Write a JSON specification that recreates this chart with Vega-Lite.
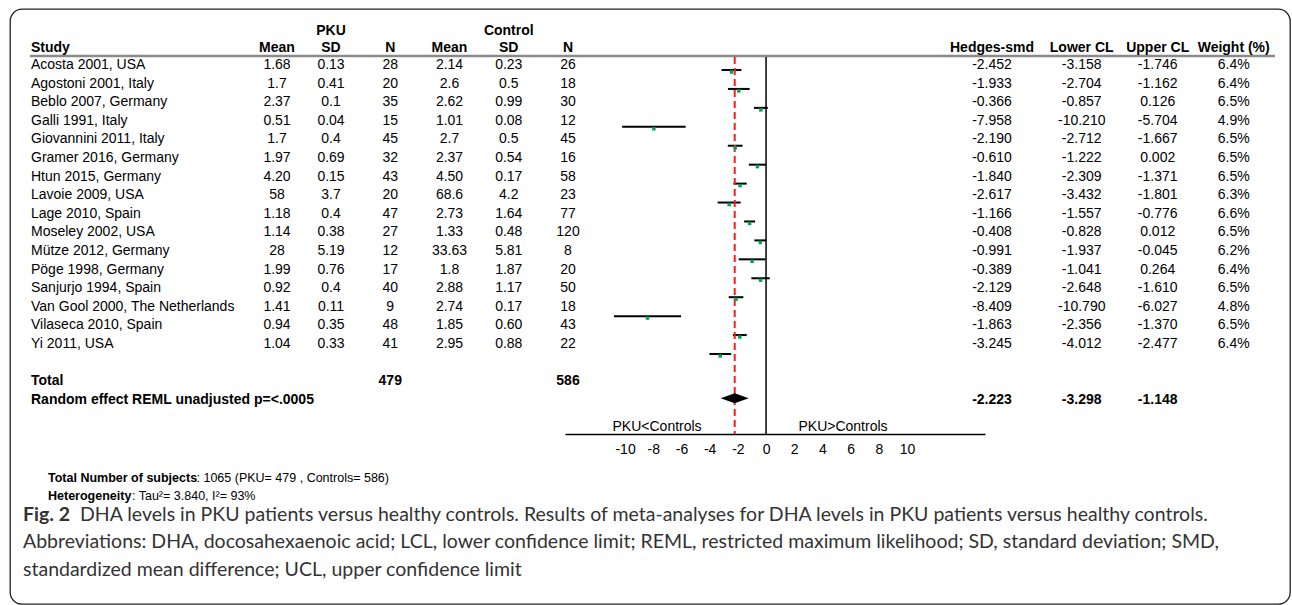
{
  "$schema": "https://vega.github.io/schema/vega-lite/v6.json",
  "width": 1280,
  "height": 595,
  "autosize": "none",
  "padding": {"left": 10, "top": 9, "right": 2, "bottom": 1},
  "background": "white",
  "config": {
    "font": "Liberation Sans",
    "view": {"stroke": "#222222", "strokeWidth": 1.3, "cornerRadius": 12},
    "locale": {"number": {"decimal": ".", "thousands": ",", "grouping": [3], "currency": ["$", ""], "minus": "-"}},
    "text": {"fontSize": 14, "color": "#000000", "baseline": "middle", "font": "Liberation Sans"}
  },
  "datasets": {
    "studies": [
      {"study": "Acosta 2001, USA", "pku_mean": "1.68", "pku_sd": "0.13", "pku_n": 28, "ctl_mean": "2.14", "ctl_sd": "0.23", "ctl_n": 26, "smd": -2.452, "lcl": -3.158, "ucl": -1.746, "weight": 0.064},
      {"study": "Agostoni 2001, Italy", "pku_mean": "1.7", "pku_sd": "0.41", "pku_n": 20, "ctl_mean": "2.6", "ctl_sd": "0.5", "ctl_n": 18, "smd": -1.933, "lcl": -2.704, "ucl": -1.162, "weight": 0.064},
      {"study": "Beblo 2007, Germany", "pku_mean": "2.37", "pku_sd": "0.1", "pku_n": 35, "ctl_mean": "2.62", "ctl_sd": "0.99", "ctl_n": 30, "smd": -0.366, "lcl": -0.857, "ucl": 0.126, "weight": 0.065},
      {"study": "Galli 1991, Italy", "pku_mean": "0.51", "pku_sd": "0.04", "pku_n": 15, "ctl_mean": "1.01", "ctl_sd": "0.08", "ctl_n": 12, "smd": -7.958, "lcl": -10.210, "ucl": -5.704, "weight": 0.049},
      {"study": "Giovannini 2011, Italy", "pku_mean": "1.7", "pku_sd": "0.4", "pku_n": 45, "ctl_mean": "2.7", "ctl_sd": "0.5", "ctl_n": 45, "smd": -2.190, "lcl": -2.712, "ucl": -1.667, "weight": 0.065},
      {"study": "Gramer 2016, Germany", "pku_mean": "1.97", "pku_sd": "0.69", "pku_n": 32, "ctl_mean": "2.37", "ctl_sd": "0.54", "ctl_n": 16, "smd": -0.610, "lcl": -1.222, "ucl": 0.002, "weight": 0.065},
      {"study": "Htun 2015, Germany", "pku_mean": "4.20", "pku_sd": "0.15", "pku_n": 43, "ctl_mean": "4.50", "ctl_sd": "0.17", "ctl_n": 58, "smd": -1.840, "lcl": -2.309, "ucl": -1.371, "weight": 0.065},
      {"study": "Lavoie 2009, USA", "pku_mean": "58", "pku_sd": "3.7", "pku_n": 20, "ctl_mean": "68.6", "ctl_sd": "4.2", "ctl_n": 23, "smd": -2.617, "lcl": -3.432, "ucl": -1.801, "weight": 0.063},
      {"study": "Lage 2010, Spain", "pku_mean": "1.18", "pku_sd": "0.4", "pku_n": 47, "ctl_mean": "2.73", "ctl_sd": "1.64", "ctl_n": 77, "smd": -1.166, "lcl": -1.557, "ucl": -0.776, "weight": 0.066},
      {"study": "Moseley 2002, USA", "pku_mean": "1.14", "pku_sd": "0.38", "pku_n": 27, "ctl_mean": "1.33", "ctl_sd": "0.48", "ctl_n": 120, "smd": -0.408, "lcl": -0.828, "ucl": 0.012, "weight": 0.065},
      {"study": "Mütze 2012, Germany", "pku_mean": "28", "pku_sd": "5.19", "pku_n": 12, "ctl_mean": "33.63", "ctl_sd": "5.81", "ctl_n": 8, "smd": -0.991, "lcl": -1.937, "ucl": -0.045, "weight": 0.062},
      {"study": "Pöge 1998, Germany", "pku_mean": "1.99", "pku_sd": "0.76", "pku_n": 17, "ctl_mean": "1.8", "ctl_sd": "1.87", "ctl_n": 20, "smd": -0.389, "lcl": -1.041, "ucl": 0.264, "weight": 0.064},
      {"study": "Sanjurjo 1994, Spain", "pku_mean": "0.92", "pku_sd": "0.4", "pku_n": 40, "ctl_mean": "2.88", "ctl_sd": "1.17", "ctl_n": 50, "smd": -2.129, "lcl": -2.648, "ucl": -1.610, "weight": 0.065},
      {"study": "Van Gool 2000, The Netherlands", "pku_mean": "1.41", "pku_sd": "0.11", "pku_n": 9, "ctl_mean": "2.74", "ctl_sd": "0.17", "ctl_n": 18, "smd": -8.409, "lcl": -10.790, "ucl": -6.027, "weight": 0.048},
      {"study": "Vilaseca 2010, Spain", "pku_mean": "0.94", "pku_sd": "0.35", "pku_n": 48, "ctl_mean": "1.85", "ctl_sd": "0.60", "ctl_n": 43, "smd": -1.863, "lcl": -2.356, "ucl": -1.370, "weight": 0.065},
      {"study": "Yi 2011, USA", "pku_mean": "1.04", "pku_sd": "0.33", "pku_n": 41, "ctl_mean": "2.95", "ctl_sd": "0.88", "ctl_n": 22, "smd": -3.245, "lcl": -4.012, "ucl": -2.477, "weight": 0.064}
    ],
    "summary": [
      {"key": "Total", "label": "Total", "pku_n": 479, "ctl_n": 586},
      {"key": "RE", "label": "Random effect REML unadjusted p=<.0005", "smd": -2.223, "lcl": -3.298, "ucl": -1.148}
    ],
    "refs": [
      {"ref": "no effect", "v": 0},
      {"ref": "pooled", "v": -2.223}
    ],
    "notes": [
      {"line": "f1", "bold": "Total Number of subjects", "rest": ": 1065 (PKU= 479 , Controls= 586)"},
      {"line": "f2", "bold": "Heterogeneity", "rest": ": Tau²= 3.840, I²= 93%"}
    ],
    "caption": [
      {"line": "c1", "bold": "Fig. 2", "rest": "DHA levels in PKU patients versus healthy controls. Results of meta-analyses for DHA levels in PKU patients versus healthy controls."},
      {"line": "c2", "bold": "", "rest": "Abbreviations: DHA, docosahexaenoic acid; LCL, lower confidence limit; REML, restricted maximum likelihood; SD, standard deviation; SMD,"},
      {"line": "c3", "bold": "", "rest": "standardized mean difference; UCL, upper confidence limit"}
    ]
  },
  "resolve": {"scale": {"x": "independent", "y": "independent"}},
  "layer": [
    {
      "data": {"values": [{"rule": "header underline"}]},
      "mark": {"type": "rule", "stroke": "#8a8a8a", "strokeWidth": 2.5, "yOffset": 9.6},
      "encoding": {
        "x": {"datum": 0, "type": "quantitative", "scale": {"domain": [0, 1], "range": [20, 1265]}, "axis": null},
        "x2": {"datum": 1},
        "y": {"datum": "hdr", "type": "nominal", "axis": null, "scale": {"type": "point", "padding": 0, "range": [18.8, 390.8], "domain": ["grp", "hdr", "Acosta 2001, USA", "Agostoni 2001, Italy", "Beblo 2007, Germany", "Galli 1991, Italy", "Giovannini 2011, Italy", "Gramer 2016, Germany", "Htun 2015, Germany", "Lavoie 2009, USA", "Lage 2010, Spain", "Moseley 2002, USA", "Mütze 2012, Germany", "Pöge 1998, Germany", "Sanjurjo 1994, Spain", "Van Gool 2000, The Netherlands", "Vilaseca 2010, Spain", "Yi 2011, USA", "gap", "Total", "RE"]}}
      }
    },
    {
      "data": {"name": "refs"},
      "transform": [{"filter": "datum.ref == 'no effect'"}],
      "mark": {"type": "rule", "stroke": "#000000", "strokeWidth": 1.5},
      "encoding": {
        "x": {"field": "v", "type": "quantitative", "axis": null, "scale": {"domain": [-14.26, 15.53], "range": [555, 975], "nice": false, "zero": false}},
        "y": {"datum": 0, "type": "quantitative", "axis": null, "scale": {"domain": [0, 1], "range": [48, 425]}},
        "y2": {"datum": 1}
      }
    },
    {
      "data": {"name": "studies"},
      "mark": {"type": "rule", "stroke": "#000000", "strokeWidth": 2},
      "encoding": {
        "x": {"field": "lcl", "type": "quantitative", "scale": {"domain": [-14.26, 15.53], "range": [555, 975], "nice": false, "zero": false},
          "axis": {"orient": "bottom", "offset": -170, "values": [-10, -8, -6, -4, -2, 0, 2, 4, 6, 8, 10], "format": "d", "title": null, "grid": false, "ticks": false, "domainColor": "#000000", "domainWidth": 1.5, "labelFont": "Liberation Sans", "labelFontSize": 14, "labelColor": "#000000", "labelPadding": 8, "labelOverlap": false, "labelFlush": false, "labelBound": false}},
        "x2": {"field": "ucl"},
        "y": {"field": "study", "type": "nominal", "axis": null, "scale": {"type": "point", "padding": 0, "range": [61, 345], "domain": ["Acosta 2001, USA", "Agostoni 2001, Italy", "Beblo 2007, Germany", "Galli 1991, Italy", "Giovannini 2011, Italy", "Gramer 2016, Germany", "Htun 2015, Germany", "Lavoie 2009, USA", "Lage 2010, Spain", "Moseley 2002, USA", "Mütze 2012, Germany", "Pöge 1998, Germany", "Sanjurjo 1994, Spain", "Van Gool 2000, The Netherlands", "Vilaseca 2010, Spain", "Yi 2011, USA"]}}
      }
    },
    {
      "data": {"name": "refs"},
      "transform": [{"filter": "datum.ref == 'pooled'"}],
      "mark": {"type": "rule", "stroke": "#ff1a1a", "strokeWidth": 2, "strokeDash": [7, 4]},
      "encoding": {
        "x": {"field": "v", "type": "quantitative", "axis": null, "scale": {"domain": [-14.26, 15.53], "range": [555, 975], "nice": false, "zero": false}},
        "y": {"datum": 0, "type": "quantitative", "axis": null, "scale": {"domain": [0, 1], "range": [48, 425]}},
        "y2": {"datum": 1}
      }
    },
    {
      "data": {"name": "studies"},
      "mark": {"type": "point", "shape": "square", "filled": true, "size": 12, "color": "#00a650", "opacity": 1, "yOffset": 2},
      "encoding": {
        "x": {"field": "smd", "type": "quantitative", "axis": null, "scale": {"domain": [-14.26, 15.53], "range": [555, 975], "nice": false, "zero": false}},
        "y": {"field": "study", "type": "nominal", "axis": null, "scale": {"type": "point", "padding": 0, "range": [61, 345], "domain": ["Acosta 2001, USA", "Agostoni 2001, Italy", "Beblo 2007, Germany", "Galli 1991, Italy", "Giovannini 2011, Italy", "Gramer 2016, Germany", "Htun 2015, Germany", "Lavoie 2009, USA", "Lage 2010, Spain", "Moseley 2002, USA", "Mütze 2012, Germany", "Pöge 1998, Germany", "Sanjurjo 1994, Spain", "Van Gool 2000, The Netherlands", "Vilaseca 2010, Spain", "Yi 2011, USA"]}}
      }
    },
    {
      "data": {"name": "summary"},
      "transform": [{"filter": "datum.key == 'RE'"}],
      "mark": {"type": "point", "shape": "M-1,0L0,-0.36L1,0L0,0.36Z", "filled": true, "size": 784, "color": "#000000", "opacity": 1, "yOffset": -1.5},
      "encoding": {
        "x": {"field": "smd", "type": "quantitative", "axis": null, "scale": {"domain": [-14.26, 15.53], "range": [555, 975], "nice": false, "zero": false}},
        "y": {"field": "key", "type": "nominal", "axis": null, "scale": {"type": "point", "padding": 0, "range": [18.8, 390.8], "domain": ["grp", "hdr", "Acosta 2001, USA", "Agostoni 2001, Italy", "Beblo 2007, Germany", "Galli 1991, Italy", "Giovannini 2011, Italy", "Gramer 2016, Germany", "Htun 2015, Germany", "Lavoie 2009, USA", "Lage 2010, Spain", "Moseley 2002, USA", "Mütze 2012, Germany", "Pöge 1998, Germany", "Sanjurjo 1994, Spain", "Van Gool 2000, The Netherlands", "Vilaseca 2010, Spain", "Yi 2011, USA", "gap", "Total", "RE"]}}
      }
    },
    {
      "data": {"values": [{"label": "PKU<Controls"}]},
      "mark": {"type": "text", "baseline": "alphabetic", "align": "center", "dy": -3},
      "encoding": {
        "text": {"field": "label", "type": "nominal"},
        "x": {"datum": -7.73, "type": "quantitative", "axis": null, "scale": {"domain": [-14.26, 15.53], "range": [555, 975], "nice": false, "zero": false}},
        "y": {"datum": 1, "type": "quantitative", "axis": null, "scale": {"domain": [0, 1], "range": [48, 425]}}
      }
    },
    {
      "data": {"values": [{"label": "PKU>Controls"}]},
      "mark": {"type": "text", "baseline": "alphabetic", "align": "center", "dy": -3},
      "encoding": {
        "text": {"field": "label", "type": "nominal"},
        "x": {"datum": 5.46, "type": "quantitative", "axis": null, "scale": {"domain": [-14.26, 15.53], "range": [555, 975], "nice": false, "zero": false}},
        "y": {"datum": 1, "type": "quantitative", "axis": null, "scale": {"domain": [0, 1], "range": [48, 425]}}
      }
    },
    {
      "data": {"values": [{"label": "Study"}]},
      "mark": {"type": "text", "align": "left", "fontWeight": "bold", "dy": 1.5},
      "encoding": {
        "text": {"field": "label", "type": "nominal"},
        "x": {"datum": "study", "type": "nominal", "axis": null, "scale": {"type": "point", "domain": ["study"], "range": [21, 21]}},
        "y": {"datum": "hdr", "type": "nominal", "axis": null, "scale": {"type": "point", "padding": 0, "range": [18.8, 390.8], "domain": ["grp", "hdr", "Acosta 2001, USA", "Agostoni 2001, Italy", "Beblo 2007, Germany", "Galli 1991, Italy", "Giovannini 2011, Italy", "Gramer 2016, Germany", "Htun 2015, Germany", "Lavoie 2009, USA", "Lage 2010, Spain", "Moseley 2002, USA", "Mütze 2012, Germany", "Pöge 1998, Germany", "Sanjurjo 1994, Spain", "Van Gool 2000, The Netherlands", "Vilaseca 2010, Spain", "Yi 2011, USA", "gap", "Total", "RE"]}}
      }
    },
    {
      "data": {"values": [{"col": "pku_mean", "label": "Mean"}]},
      "mark": {"type": "text", "align": "center", "fontWeight": "bold", "dy": 1.5},
      "encoding": {
        "text": {"field": "label", "type": "nominal"},
        "x": {"field": "col", "type": "nominal", "axis": null, "scale": {"type": "point", "domain": ["pku_mean"], "range": [267, 267]}},
        "y": {"datum": "hdr", "type": "nominal", "axis": null, "scale": {"type": "point", "padding": 0, "range": [18.8, 390.8], "domain": ["grp", "hdr", "Acosta 2001, USA", "Agostoni 2001, Italy", "Beblo 2007, Germany", "Galli 1991, Italy", "Giovannini 2011, Italy", "Gramer 2016, Germany", "Htun 2015, Germany", "Lavoie 2009, USA", "Lage 2010, Spain", "Moseley 2002, USA", "Mütze 2012, Germany", "Pöge 1998, Germany", "Sanjurjo 1994, Spain", "Van Gool 2000, The Netherlands", "Vilaseca 2010, Spain", "Yi 2011, USA", "gap", "Total", "RE"]}}
      }
    },
    {
      "data": {"values": [{"col": "pku_sd", "label": "SD"}, {"col": "pku_n", "label": "N"}, {"col": "ctl_mean", "label": "Mean"}, {"col": "ctl_sd", "label": "SD"}, {"col": "ctl_n", "label": "N"}]},
      "mark": {"type": "text", "align": "center", "fontWeight": "bold", "dy": 1.5},
      "encoding": {
        "text": {"field": "label", "type": "nominal"},
        "x": {"field": "col", "type": "nominal", "axis": null, "scale": {"type": "point", "padding": 0, "domain": ["pku_sd", "pku_n", "ctl_mean", "ctl_sd", "ctl_n"], "range": [321, 558]}},
        "y": {"datum": "hdr", "type": "nominal", "axis": null, "scale": {"type": "point", "padding": 0, "range": [18.8, 390.8], "domain": ["grp", "hdr", "Acosta 2001, USA", "Agostoni 2001, Italy", "Beblo 2007, Germany", "Galli 1991, Italy", "Giovannini 2011, Italy", "Gramer 2016, Germany", "Htun 2015, Germany", "Lavoie 2009, USA", "Lage 2010, Spain", "Moseley 2002, USA", "Mütze 2012, Germany", "Pöge 1998, Germany", "Sanjurjo 1994, Spain", "Van Gool 2000, The Netherlands", "Vilaseca 2010, Spain", "Yi 2011, USA", "gap", "Total", "RE"]}}
      }
    },
    {
      "data": {"values": [{"col": "pku_sd", "label": "PKU"}, {"col": "ctl_sd", "label": "Control"}]},
      "mark": {"type": "text", "align": "center", "fontWeight": "bold", "dy": 3},
      "encoding": {
        "text": {"field": "label", "type": "nominal"},
        "x": {"field": "col", "type": "nominal", "axis": null, "scale": {"type": "point", "padding": 0, "domain": ["pku_sd", "pku_n", "ctl_mean", "ctl_sd", "ctl_n"], "range": [321, 558]}},
        "y": {"datum": "grp", "type": "nominal", "axis": null, "scale": {"type": "point", "padding": 0, "range": [18.8, 390.8], "domain": ["grp", "hdr", "Acosta 2001, USA", "Agostoni 2001, Italy", "Beblo 2007, Germany", "Galli 1991, Italy", "Giovannini 2011, Italy", "Gramer 2016, Germany", "Htun 2015, Germany", "Lavoie 2009, USA", "Lage 2010, Spain", "Moseley 2002, USA", "Mütze 2012, Germany", "Pöge 1998, Germany", "Sanjurjo 1994, Spain", "Van Gool 2000, The Netherlands", "Vilaseca 2010, Spain", "Yi 2011, USA", "gap", "Total", "RE"]}}
      }
    },
    {
      "data": {"values": [{"col": "smd", "label": "Hedges-smd"}]},
      "mark": {"type": "text", "align": "center", "fontWeight": "bold", "dy": 1.5},
      "encoding": {
        "text": {"field": "label", "type": "nominal"},
        "x": {"field": "col", "type": "nominal", "axis": null, "scale": {"type": "point", "domain": ["smd"], "range": [982, 982]}},
        "y": {"datum": "hdr", "type": "nominal", "axis": null, "scale": {"type": "point", "padding": 0, "range": [18.8, 390.8], "domain": ["grp", "hdr", "Acosta 2001, USA", "Agostoni 2001, Italy", "Beblo 2007, Germany", "Galli 1991, Italy", "Giovannini 2011, Italy", "Gramer 2016, Germany", "Htun 2015, Germany", "Lavoie 2009, USA", "Lage 2010, Spain", "Moseley 2002, USA", "Mütze 2012, Germany", "Pöge 1998, Germany", "Sanjurjo 1994, Spain", "Van Gool 2000, The Netherlands", "Vilaseca 2010, Spain", "Yi 2011, USA", "gap", "Total", "RE"]}}
      }
    },
    {
      "data": {"values": [{"col": "lcl", "label": "Lower CL"}, {"col": "ucl", "label": "Upper CL"}, {"col": "weight", "label": "Weight (%)"}]},
      "mark": {"type": "text", "align": "center", "fontWeight": "bold", "dy": 1.5},
      "encoding": {
        "text": {"field": "label", "type": "nominal"},
        "x": {"field": "col", "type": "nominal", "axis": null, "scale": {"type": "point", "padding": 0, "domain": ["lcl", "ucl", "weight"], "range": [1071.7, 1223.7]}},
        "y": {"datum": "hdr", "type": "nominal", "axis": null, "scale": {"type": "point", "padding": 0, "range": [18.8, 390.8], "domain": ["grp", "hdr", "Acosta 2001, USA", "Agostoni 2001, Italy", "Beblo 2007, Germany", "Galli 1991, Italy", "Giovannini 2011, Italy", "Gramer 2016, Germany", "Htun 2015, Germany", "Lavoie 2009, USA", "Lage 2010, Spain", "Moseley 2002, USA", "Mütze 2012, Germany", "Pöge 1998, Germany", "Sanjurjo 1994, Spain", "Van Gool 2000, The Netherlands", "Vilaseca 2010, Spain", "Yi 2011, USA", "gap", "Total", "RE"]}}
      }
    },
    {
      "data": {"name": "studies"},
      "mark": {"type": "text", "align": "left"},
      "encoding": {
        "text": {"field": "study", "type": "nominal"},
        "x": {"datum": "study", "type": "nominal", "axis": null, "scale": {"type": "point", "domain": ["study"], "range": [21, 21]}},
        "y": {"field": "study", "type": "nominal", "axis": null, "scale": {"type": "point", "padding": 0, "range": [18.8, 390.8], "domain": ["grp", "hdr", "Acosta 2001, USA", "Agostoni 2001, Italy", "Beblo 2007, Germany", "Galli 1991, Italy", "Giovannini 2011, Italy", "Gramer 2016, Germany", "Htun 2015, Germany", "Lavoie 2009, USA", "Lage 2010, Spain", "Moseley 2002, USA", "Mütze 2012, Germany", "Pöge 1998, Germany", "Sanjurjo 1994, Spain", "Van Gool 2000, The Netherlands", "Vilaseca 2010, Spain", "Yi 2011, USA", "gap", "Total", "RE"]}}
      }
    },
    {
      "data": {"name": "studies"},
      "mark": {"type": "text", "align": "center"},
      "encoding": {
        "text": {"field": "pku_mean", "type": "nominal"},
        "x": {"datum": "pku_mean", "type": "nominal", "axis": null, "scale": {"type": "point", "domain": ["pku_mean"], "range": [267, 267]}},
        "y": {"field": "study", "type": "nominal", "axis": null, "scale": {"type": "point", "padding": 0, "range": [18.8, 390.8], "domain": ["grp", "hdr", "Acosta 2001, USA", "Agostoni 2001, Italy", "Beblo 2007, Germany", "Galli 1991, Italy", "Giovannini 2011, Italy", "Gramer 2016, Germany", "Htun 2015, Germany", "Lavoie 2009, USA", "Lage 2010, Spain", "Moseley 2002, USA", "Mütze 2012, Germany", "Pöge 1998, Germany", "Sanjurjo 1994, Spain", "Van Gool 2000, The Netherlands", "Vilaseca 2010, Spain", "Yi 2011, USA", "gap", "Total", "RE"]}}
      }
    },
    {
      "data": {"name": "studies"},
      "transform": [{"fold": ["pku_sd", "pku_n", "ctl_mean", "ctl_sd", "ctl_n"], "as": ["col", "val"]}],
      "mark": {"type": "text", "align": "center"},
      "encoding": {
        "text": {"field": "val", "type": "nominal"},
        "x": {"field": "col", "type": "nominal", "axis": null, "scale": {"type": "point", "padding": 0, "domain": ["pku_sd", "pku_n", "ctl_mean", "ctl_sd", "ctl_n"], "range": [321, 558]}},
        "y": {"field": "study", "type": "nominal", "axis": null, "scale": {"type": "point", "padding": 0, "range": [18.8, 390.8], "domain": ["grp", "hdr", "Acosta 2001, USA", "Agostoni 2001, Italy", "Beblo 2007, Germany", "Galli 1991, Italy", "Giovannini 2011, Italy", "Gramer 2016, Germany", "Htun 2015, Germany", "Lavoie 2009, USA", "Lage 2010, Spain", "Moseley 2002, USA", "Mütze 2012, Germany", "Pöge 1998, Germany", "Sanjurjo 1994, Spain", "Van Gool 2000, The Netherlands", "Vilaseca 2010, Spain", "Yi 2011, USA", "gap", "Total", "RE"]}}
      }
    },
    {
      "data": {"name": "studies"},
      "mark": {"type": "text", "align": "center"},
      "encoding": {
        "text": {"field": "smd", "type": "quantitative", "format": ".3f"},
        "x": {"datum": "smd", "type": "nominal", "axis": null, "scale": {"type": "point", "domain": ["smd"], "range": [982, 982]}},
        "y": {"field": "study", "type": "nominal", "axis": null, "scale": {"type": "point", "padding": 0, "range": [18.8, 390.8], "domain": ["grp", "hdr", "Acosta 2001, USA", "Agostoni 2001, Italy", "Beblo 2007, Germany", "Galli 1991, Italy", "Giovannini 2011, Italy", "Gramer 2016, Germany", "Htun 2015, Germany", "Lavoie 2009, USA", "Lage 2010, Spain", "Moseley 2002, USA", "Mütze 2012, Germany", "Pöge 1998, Germany", "Sanjurjo 1994, Spain", "Van Gool 2000, The Netherlands", "Vilaseca 2010, Spain", "Yi 2011, USA", "gap", "Total", "RE"]}}
      }
    },
    {
      "data": {"name": "studies"},
      "transform": [{"fold": ["lcl", "ucl"], "as": ["col", "val"]}],
      "mark": {"type": "text", "align": "center"},
      "encoding": {
        "text": {"field": "val", "type": "quantitative", "format": ".3f"},
        "x": {"field": "col", "type": "nominal", "axis": null, "scale": {"type": "point", "padding": 0, "domain": ["lcl", "ucl", "weight"], "range": [1071.7, 1223.7]}},
        "y": {"field": "study", "type": "nominal", "axis": null, "scale": {"type": "point", "padding": 0, "range": [18.8, 390.8], "domain": ["grp", "hdr", "Acosta 2001, USA", "Agostoni 2001, Italy", "Beblo 2007, Germany", "Galli 1991, Italy", "Giovannini 2011, Italy", "Gramer 2016, Germany", "Htun 2015, Germany", "Lavoie 2009, USA", "Lage 2010, Spain", "Moseley 2002, USA", "Mütze 2012, Germany", "Pöge 1998, Germany", "Sanjurjo 1994, Spain", "Van Gool 2000, The Netherlands", "Vilaseca 2010, Spain", "Yi 2011, USA", "gap", "Total", "RE"]}}
      }
    },
    {
      "data": {"name": "studies"},
      "mark": {"type": "text", "align": "center"},
      "encoding": {
        "text": {"field": "weight", "type": "quantitative", "format": ".1%"},
        "x": {"datum": "weight", "type": "nominal", "axis": null, "scale": {"type": "point", "padding": 0, "domain": ["lcl", "ucl", "weight"], "range": [1071.7, 1223.7]}},
        "y": {"field": "study", "type": "nominal", "axis": null, "scale": {"type": "point", "padding": 0, "range": [18.8, 390.8], "domain": ["grp", "hdr", "Acosta 2001, USA", "Agostoni 2001, Italy", "Beblo 2007, Germany", "Galli 1991, Italy", "Giovannini 2011, Italy", "Gramer 2016, Germany", "Htun 2015, Germany", "Lavoie 2009, USA", "Lage 2010, Spain", "Moseley 2002, USA", "Mütze 2012, Germany", "Pöge 1998, Germany", "Sanjurjo 1994, Spain", "Van Gool 2000, The Netherlands", "Vilaseca 2010, Spain", "Yi 2011, USA", "gap", "Total", "RE"]}}
      }
    },
    {
      "data": {"name": "summary"},
      "mark": {"type": "text", "align": "left", "fontWeight": "bold"},
      "encoding": {
        "text": {"field": "label", "type": "nominal"},
        "x": {"datum": "study", "type": "nominal", "axis": null, "scale": {"type": "point", "domain": ["study"], "range": [21, 21]}},
        "y": {"field": "key", "type": "nominal", "axis": null, "scale": {"type": "point", "padding": 0, "range": [18.8, 390.8], "domain": ["grp", "hdr", "Acosta 2001, USA", "Agostoni 2001, Italy", "Beblo 2007, Germany", "Galli 1991, Italy", "Giovannini 2011, Italy", "Gramer 2016, Germany", "Htun 2015, Germany", "Lavoie 2009, USA", "Lage 2010, Spain", "Moseley 2002, USA", "Mütze 2012, Germany", "Pöge 1998, Germany", "Sanjurjo 1994, Spain", "Van Gool 2000, The Netherlands", "Vilaseca 2010, Spain", "Yi 2011, USA", "gap", "Total", "RE"]}}
      }
    },
    {
      "data": {"name": "summary"},
      "transform": [{"filter": "datum.key == 'Total'"}, {"fold": ["pku_n", "ctl_n"], "as": ["col", "val"]}],
      "mark": {"type": "text", "align": "center", "fontWeight": "bold"},
      "encoding": {
        "text": {"field": "val", "type": "nominal"},
        "x": {"field": "col", "type": "nominal", "axis": null, "scale": {"type": "point", "padding": 0, "domain": ["pku_sd", "pku_n", "ctl_mean", "ctl_sd", "ctl_n"], "range": [321, 558]}},
        "y": {"field": "key", "type": "nominal", "axis": null, "scale": {"type": "point", "padding": 0, "range": [18.8, 390.8], "domain": ["grp", "hdr", "Acosta 2001, USA", "Agostoni 2001, Italy", "Beblo 2007, Germany", "Galli 1991, Italy", "Giovannini 2011, Italy", "Gramer 2016, Germany", "Htun 2015, Germany", "Lavoie 2009, USA", "Lage 2010, Spain", "Moseley 2002, USA", "Mütze 2012, Germany", "Pöge 1998, Germany", "Sanjurjo 1994, Spain", "Van Gool 2000, The Netherlands", "Vilaseca 2010, Spain", "Yi 2011, USA", "gap", "Total", "RE"]}}
      }
    },
    {
      "data": {"name": "summary"},
      "transform": [{"filter": "datum.key == 'RE'"}],
      "mark": {"type": "text", "align": "center", "fontWeight": "bold"},
      "encoding": {
        "text": {"field": "smd", "type": "quantitative", "format": ".3f"},
        "x": {"datum": "smd", "type": "nominal", "axis": null, "scale": {"type": "point", "domain": ["smd"], "range": [982, 982]}},
        "y": {"field": "key", "type": "nominal", "axis": null, "scale": {"type": "point", "padding": 0, "range": [18.8, 390.8], "domain": ["grp", "hdr", "Acosta 2001, USA", "Agostoni 2001, Italy", "Beblo 2007, Germany", "Galli 1991, Italy", "Giovannini 2011, Italy", "Gramer 2016, Germany", "Htun 2015, Germany", "Lavoie 2009, USA", "Lage 2010, Spain", "Moseley 2002, USA", "Mütze 2012, Germany", "Pöge 1998, Germany", "Sanjurjo 1994, Spain", "Van Gool 2000, The Netherlands", "Vilaseca 2010, Spain", "Yi 2011, USA", "gap", "Total", "RE"]}}
      }
    },
    {
      "data": {"name": "summary"},
      "transform": [{"filter": "datum.key == 'RE'"}, {"fold": ["lcl", "ucl"], "as": ["col", "val"]}],
      "mark": {"type": "text", "align": "center", "fontWeight": "bold"},
      "encoding": {
        "text": {"field": "val", "type": "quantitative", "format": ".3f"},
        "x": {"field": "col", "type": "nominal", "axis": null, "scale": {"type": "point", "padding": 0, "domain": ["lcl", "ucl", "weight"], "range": [1071.7, 1223.7]}},
        "y": {"field": "key", "type": "nominal", "axis": null, "scale": {"type": "point", "padding": 0, "range": [18.8, 390.8], "domain": ["grp", "hdr", "Acosta 2001, USA", "Agostoni 2001, Italy", "Beblo 2007, Germany", "Galli 1991, Italy", "Giovannini 2011, Italy", "Gramer 2016, Germany", "Htun 2015, Germany", "Lavoie 2009, USA", "Lage 2010, Spain", "Moseley 2002, USA", "Mütze 2012, Germany", "Pöge 1998, Germany", "Sanjurjo 1994, Spain", "Van Gool 2000, The Netherlands", "Vilaseca 2010, Spain", "Yi 2011, USA", "gap", "Total", "RE"]}}
      }
    },
    {
      "data": {"name": "notes"},
      "mark": {"type": "text", "align": "left", "fontWeight": "bold", "fontSize": 12.5},
      "encoding": {
        "text": {"field": "bold", "type": "nominal"},
        "x": {"datum": "note", "type": "nominal", "axis": null, "scale": {"type": "point", "domain": ["note"], "range": [38, 38]}},
        "y": {"field": "line", "type": "nominal", "axis": null, "scale": {"type": "point", "padding": 0, "domain": ["f1", "f2"], "range": [469, 487]}}
      }
    },
    {
      "data": {"name": "notes"},
      "transform": [{"filter": "datum.line == 'f1'"}],
      "mark": {"type": "text", "align": "left", "fontSize": 12.5, "dx": 148.5},
      "encoding": {
        "text": {"field": "rest", "type": "nominal"},
        "x": {"datum": "note", "type": "nominal", "axis": null, "scale": {"type": "point", "domain": ["note"], "range": [38, 38]}},
        "y": {"field": "line", "type": "nominal", "axis": null, "scale": {"type": "point", "padding": 0, "domain": ["f1", "f2"], "range": [469, 487]}}
      }
    },
    {
      "data": {"name": "notes"},
      "transform": [{"filter": "datum.line == 'f2'"}],
      "mark": {"type": "text", "align": "left", "fontSize": 12.5, "dx": 84},
      "encoding": {
        "text": {"field": "rest", "type": "nominal"},
        "x": {"datum": "note", "type": "nominal", "axis": null, "scale": {"type": "point", "domain": ["note"], "range": [38, 38]}},
        "y": {"field": "line", "type": "nominal", "axis": null, "scale": {"type": "point", "padding": 0, "domain": ["f1", "f2"], "range": [469, 487]}}
      }
    },
    {
      "data": {"name": "caption"},
      "transform": [{"filter": "datum.bold != ''"}],
      "mark": {"type": "text", "align": "left", "fontWeight": "bold", "font": "Lato", "fontSize": 19.5, "color": "#333333"},
      "encoding": {
        "text": {"field": "bold", "type": "nominal"},
        "x": {"datum": "cap", "type": "nominal", "axis": null, "scale": {"type": "point", "domain": ["cap"], "range": [13, 13]}},
        "y": {"field": "line", "type": "nominal", "axis": null, "scale": {"type": "point", "padding": 0, "domain": ["c1", "c2", "c3"], "range": [505.5, 561]}}
      }
    },
    {
      "data": {"name": "caption"},
      "transform": [{"filter": "datum.bold != ''"}],
      "mark": {"type": "text", "align": "left", "font": "Lato", "fontSize": 19.5, "color": "#333333", "dx": 57},
      "encoding": {
        "text": {"field": "rest", "type": "nominal"},
        "x": {"datum": "cap", "type": "nominal", "axis": null, "scale": {"type": "point", "domain": ["cap"], "range": [13, 13]}},
        "y": {"field": "line", "type": "nominal", "axis": null, "scale": {"type": "point", "padding": 0, "domain": ["c1", "c2", "c3"], "range": [505.5, 561]}}
      }
    },
    {
      "data": {"name": "caption"},
      "transform": [{"filter": "datum.bold == ''"}],
      "mark": {"type": "text", "align": "left", "font": "Lato", "fontSize": 19.5, "color": "#333333"},
      "encoding": {
        "text": {"field": "rest", "type": "nominal"},
        "x": {"datum": "cap", "type": "nominal", "axis": null, "scale": {"type": "point", "domain": ["cap"], "range": [13, 13]}},
        "y": {"field": "line", "type": "nominal", "axis": null, "scale": {"type": "point", "padding": 0, "domain": ["c1", "c2", "c3"], "range": [505.5, 561]}}
      }
    }
  ]
}
